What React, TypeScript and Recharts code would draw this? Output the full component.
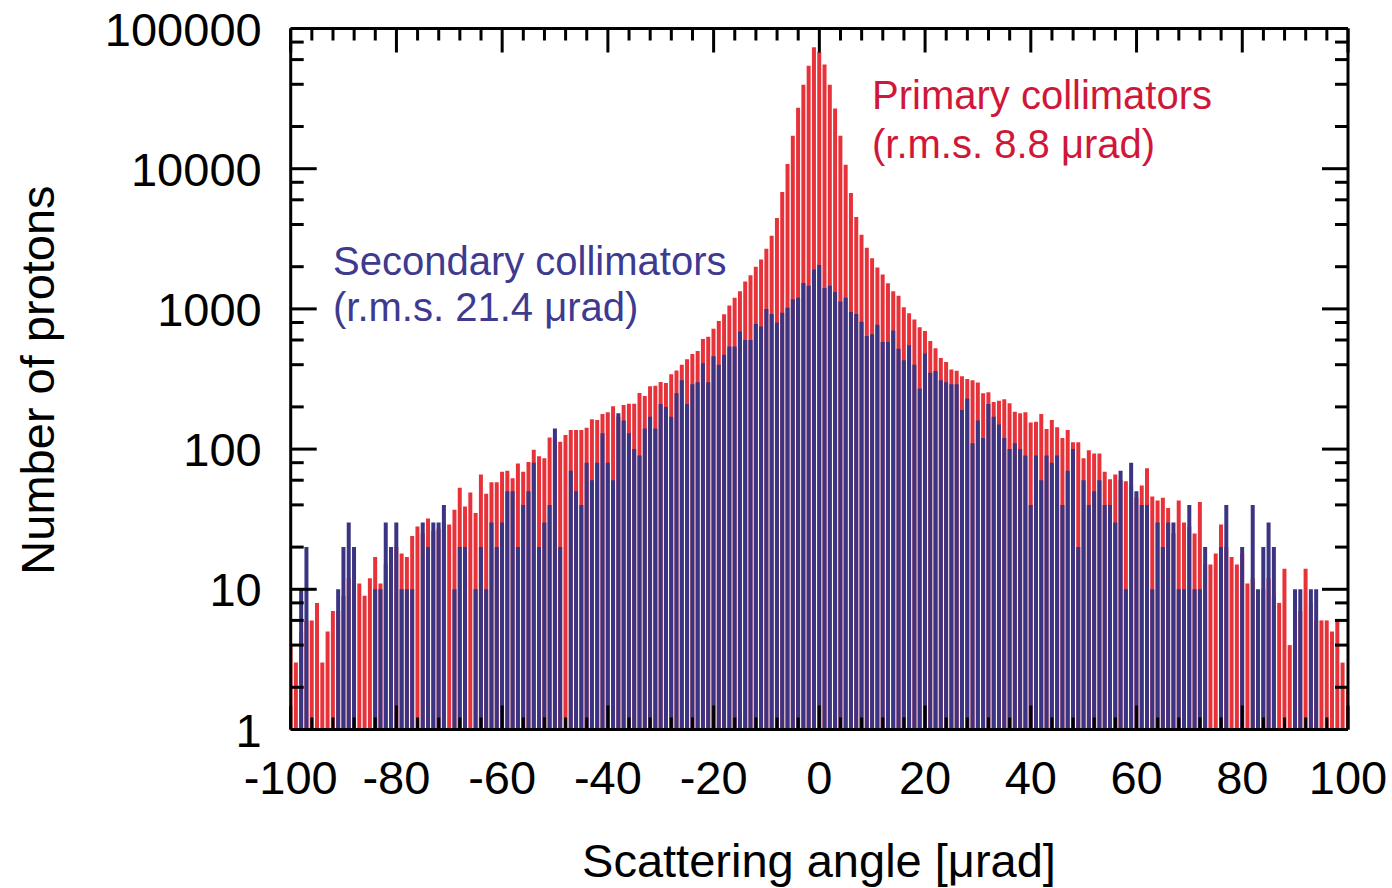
import { BarChart, Bar, XAxis, YAxis } from 'recharts';

const FONT = '"Liberation Sans", Arial, Helvetica, sans-serif';
const RED = '#E8323A';
const BLUE = '#3A3482';

// bin centres, 1 urad bins from -100 to 100
const angles = Array.from({ length: 201 }, (_, i) => i - 100);

// primary collimators (counts per bin)
const primary = [
  4, 3, 5, 6, 6, 8, 3, 5, 7, 7,
  9, 12, 10, 11, 9, 12, 17, 11, 15, 14,
  20, 18, 17, 24, 28, 25, 32, 26, 27, 30,
  29, 37, 53, 39, 49, 35, 66, 48, 58, 58,
  69, 70, 62, 79, 69, 81, 99, 89, 86, 121,
  120, 113, 126, 137, 137, 137, 142, 163, 161, 178,
  183, 202, 170, 206, 211, 211, 251, 239, 281, 283,
  301, 296, 342, 363, 400, 437, 477, 501, 611, 634,
  723, 821, 916, 1056, 1199, 1337, 1567, 1741, 1995, 2250,
  2683, 3321, 4446, 6820, 10810, 17210, 27160, 39630, 54180, 73500,
  68000, 55320, 39630, 26830, 17210, 10680, 6703, 4520, 3379, 2728,
  2302, 1973, 1759, 1527, 1337, 1239, 1028, 931, 839, 740,
  697, 591, 524, 447, 418, 369, 362, 331, 316, 310,
  298, 250, 254, 217, 221, 227, 212, 185, 180, 183,
  155, 157, 178, 139, 161, 143, 120, 137, 112, 112,
  86, 98, 93, 93, 69, 61, 66, 60, 59, 55,
  45, 55, 73, 46, 43, 45, 38, 25, 43, 30,
  28, 25, 42, 15, 15, 18, 29, 20, 17, 15,
  18, 11, 12, 8, 10, 12, 9, 8, 14, 4,
  6, 7, 14, 8, 6, 6, 6, 5, 6, 3,
  2,
];

// secondary collimators
const secondary = [
  0, 0, 10, 20, 0, 0, 0, 0, 0, 10,
  20, 30, 20, 0, 0, 0, 10, 10, 30, 20,
  30, 10, 10, 10, 0, 30, 20, 30, 30, 40,
  0, 10, 20, 20, 0, 10, 20, 10, 30, 20,
  30, 50, 50, 20, 40, 50, 80, 20, 30, 40,
  140, 20, 0, 70, 50, 40, 80, 60, 80, 130,
  80, 60, 180, 160, 130, 100, 90, 140, 170, 140,
  210, 200, 170, 250, 310, 210, 290, 300, 410, 300,
  460, 400, 470, 540, 540, 690, 600, 600, 780, 750,
  1000, 920, 800, 940, 1020, 1170, 1200, 1530, 1460, 1910,
  2060, 1410, 1460, 1320, 1130, 1200, 950, 920, 810, 640,
  660, 770, 580, 580, 700, 520, 430, 550, 400, 270,
  480, 350, 360, 310, 300, 290, 290, 190, 230, 110,
  160, 120, 210, 170, 150, 120, 100, 110, 100, 90,
  40, 90, 60, 90, 80, 90, 40, 70, 100, 20,
  60, 40, 50, 60, 40, 40, 30, 70, 10, 80,
  50, 40, 40, 10, 30, 20, 30, 30, 10, 10,
  40, 10, 10, 20, 0, 0, 20, 40, 0, 0,
  20, 0, 40, 10, 20, 30, 20, 0, 0, 0,
  10, 10, 0, 10, 10, 0, 0, 0, 0, 0,
  0,
];

const xTicks = [
  -100, -96, -92, -88, -84, -80, -76, -72, -68, -64, -60, -56, -52, -48, -44, -40, -36,
  -32, -28, -24, -20, -16, -12, -8, -4, 0, 4, 8, 12, 16, 20, 24, 28, 32, 36, 40, 44, 48,
  52, 56, 60, 64, 68, 72, 76, 80, 84, 88, 92, 96, 100,
];
const xLabels = [-100, -80, -60, -40, -20, 0, 20, 40, 60, 80, 100];

const yTicks = [
  1, 2, 4, 6, 8, 10, 20, 40, 60, 80, 100, 200, 400, 600, 800, 1000, 2000, 4000, 6000, 8000,
  10000, 20000, 40000, 60000, 80000, 100000,
];
const yLabels = [1, 10, 100, 1000, 10000, 100000];

const rows = angles.map((angle, i) => ({
  angle,
  primary: primary[i] > 0 ? primary[i] : null,
  secondary: secondary[i] > 0 ? secondary[i] : null,
}));

function BottomTick({ x, y, payload }: any) {
  const major = xLabels.includes(payload.value);
  return (
    <g>
      <line x1={x} x2={x} y1={y} y2={y - (major ? 24 : 12)} stroke="#000" strokeWidth={3} />
      {major && (
        <text x={x} y={y + 64} textAnchor="middle" fontSize={47} fontFamily={FONT} fill="#000">
          {payload.value}
        </text>
      )}
    </g>
  );
}

function TopTick({ x, y, payload }: any) {
  const major = xLabels.includes(payload.value);
  return <line x1={x} x2={x} y1={y} y2={y + (major ? 24 : 12)} stroke="#000" strokeWidth={3} />;
}

function LeftTick({ x, y, payload }: any) {
  const major = yLabels.includes(payload.value);
  return (
    <g>
      <line x1={x} x2={x + (major ? 26 : 13)} y1={y} y2={y} stroke="#000" strokeWidth={3} />
      {major && (
        <text x={x - 29} y={y + 17} textAnchor="end" fontSize={47} fontFamily={FONT} fill="#000">
          {payload.value}
        </text>
      )}
    </g>
  );
}

function RightTick({ x, y, payload }: any) {
  const major = yLabels.includes(payload.value);
  return <line x1={x} x2={x - (major ? 26 : 13)} y1={y} y2={y} stroke="#000" strokeWidth={3} />;
}

const axisLine = { stroke: '#000', strokeWidth: 3 };

export default function App() {
  return (
    <div style={{ position: 'absolute', left: 0, top: 0, width: 1392, height: 888, background: '#fff' }}>
      <BarChart
        width={1392}
        height={888}
        data={rows}
        margin={{ top: 27.5, right: 43, bottom: 157.5, left: 289.7 }}
      >
        <Bar xAxisId="primary" yAxisId="left" dataKey="primary" fill={RED} isAnimationActive={false} />
        <Bar xAxisId="secondary" yAxisId="left" dataKey="secondary" fill={BLUE} isAnimationActive={false} />
        <XAxis
          xAxisId="primary"
          dataKey="angle"
          type="number"
          domain={[-100, 100]}
          allowDataOverflow
          ticks={xTicks}
          interval={0}
          height={1}
          tickSize={0}
          tickMargin={0}
          tickLine={false}
          axisLine={axisLine}
          tick={BottomTick}
        />
        <XAxis xAxisId="secondary" dataKey="angle" type="number" domain={[-100, 100]} allowDataOverflow hide />
        <XAxis
          xAxisId="top"
          orientation="top"
          dataKey="angle"
          type="number"
          domain={[-100, 100]}
          allowDataOverflow
          ticks={xTicks}
          interval={0}
          height={1}
          tickSize={0}
          tickMargin={0}
          tickLine={false}
          axisLine={axisLine}
          tick={TopTick}
        />
        <YAxis
          yAxisId="left"
          scale="log"
          domain={[1, 100000]}
          ticks={yTicks}
          interval={0}
          width={1}
          tickSize={0}
          tickMargin={0}
          tickLine={false}
          axisLine={axisLine}
          tick={LeftTick}
        />
        <YAxis
          yAxisId="right"
          orientation="right"
          scale="log"
          domain={[1, 100000]}
          allowDataOverflow
          ticks={yTicks}
          interval={0}
          width={1}
          tickSize={0}
          tickMargin={0}
          tickLine={false}
          axisLine={axisLine}
          tick={RightTick}
        />
      </BarChart>
      <svg
        width={1392}
        height={888}
        style={{ position: 'absolute', left: 0, top: 0, pointerEvents: 'none' }}
        fontFamily={FONT}
      >
        <text transform="translate(54,380) rotate(-90)" textAnchor="middle" fontSize={47} fill="#000">
          Number of protons
        </text>
        <text x={819} y={877} textAnchor="middle" fontSize={47} fill="#000">
          Scattering angle [μrad]
        </text>
        <text x={872} y={109} fontSize={40} fill="#D0173A">Primary collimators</text>
        <text x={872} y={158} fontSize={40} fill="#D0173A">(r.m.s. 8.8 μrad)</text>
        <text x={333} y={275} fontSize={40} fill="#3D3A8F">Secondary collimators</text>
        <text x={333} y={321} fontSize={40} fill="#3D3A8F">(r.m.s. 21.4 μrad)</text>
      </svg>
    </div>
  );
}
